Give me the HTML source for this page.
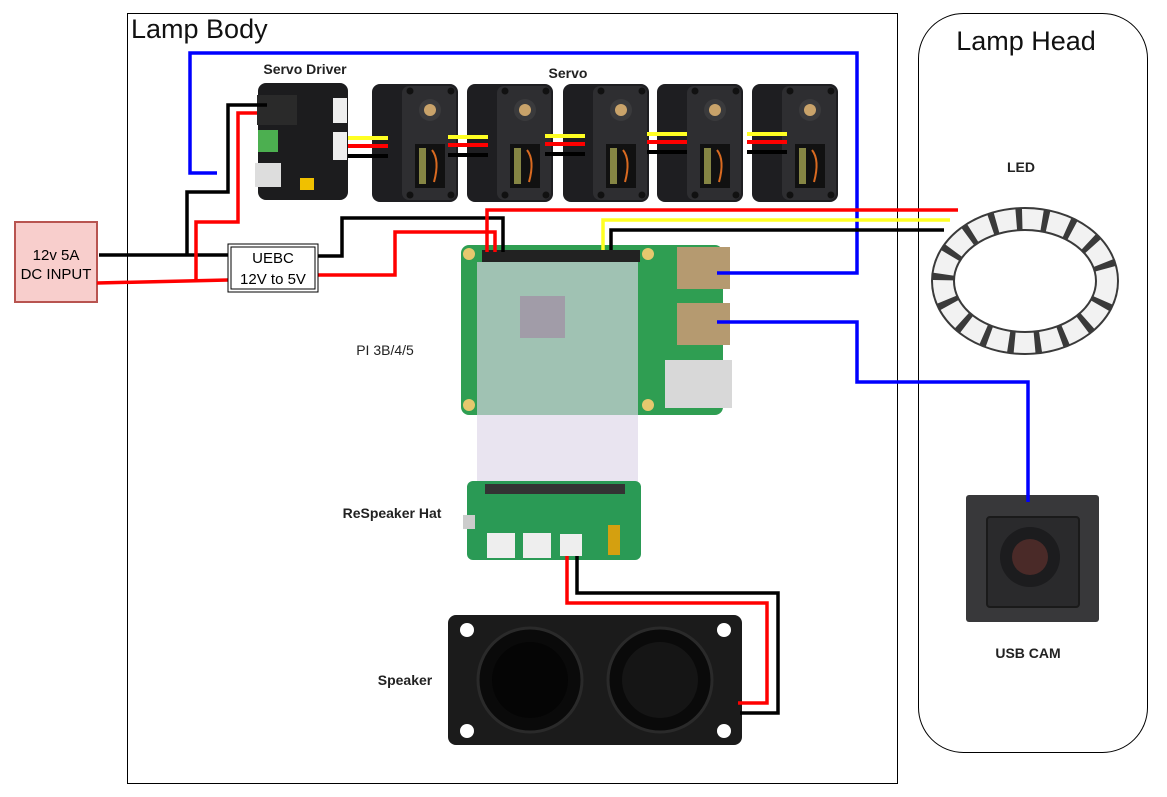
<!DOCTYPE html>
<html><head><meta charset="utf-8"><style>
body{margin:0;background:#fff;}
svg{display:block;font-family:"Liberation Sans",sans-serif;}
</style></head><body>
<svg width="1167" height="797" viewBox="0 0 1167 797" xmlns="http://www.w3.org/2000/svg">
<defs>
<g id="servo">
  <rect x="0" y="0" width="86" height="118" rx="8" fill="#1e1e21"/>
  <rect x="30" y="2" width="54" height="114" rx="7" fill="#2e2e31"/>
  <circle cx="38" cy="7" r="3.5" fill="#111"/><circle cx="79" cy="7" r="3.5" fill="#111"/>
  <circle cx="58" cy="26" r="11" fill="#3a3a3c"/><circle cx="58" cy="26" r="6" fill="#c9a36a"/>
  <rect x="43" y="60" width="30" height="44" fill="#111"/>
  <rect x="47" y="64" width="7" height="36" fill="#b8b85a" opacity=".7"/>
  <path d="M60 66 q8 10 2 32" stroke="#d96a20" stroke-width="2" fill="none"/>
  <circle cx="38" cy="111" r="3.5" fill="#111"/><circle cx="79" cy="111" r="3.5" fill="#111"/>
</g>
<g id="sw">
  <line x1="0" y1="0" x2="40" y2="0" stroke="#ffff22" stroke-width="4"/>
  <line x1="0" y1="8" x2="40" y2="8" stroke="#f00" stroke-width="4"/>
  <line x1="0" y1="18" x2="40" y2="18" stroke="#000" stroke-width="4"/>
</g>
</defs>

<rect x="127.5" y="13.5" width="770" height="770" fill="none" stroke="#000" stroke-width="1"/>
<text x="131" y="38" font-size="27" fill="#111">Lamp Body</text>
<rect x="918.5" y="13.5" width="229" height="739" rx="45" fill="none" stroke="#000" stroke-width="1"/>
<text x="1026" y="50" font-size="27" fill="#111" text-anchor="middle">Lamp Head</text>

<rect x="15" y="222" width="82" height="80" fill="#f8cecc" stroke="#b85450" stroke-width="2"/>
<text x="56" y="260" font-size="15" text-anchor="middle">12v 5A</text>
<text x="56" y="279" font-size="15" text-anchor="middle">DC INPUT</text>

<rect x="258" y="83" width="90" height="117" rx="8" fill="#1c1c1e"/>
<rect x="257" y="95" width="40" height="30" fill="#2a2a2a"/>
<rect x="258" y="130" width="20" height="22" fill="#4caf50"/>
<rect x="255" y="163" width="26" height="24" fill="#ddd"/>
<rect x="333" y="98" width="14" height="25" fill="#eee"/>
<rect x="333" y="132" width="14" height="28" fill="#eee"/>
<rect x="300" y="178" width="14" height="12" fill="#f0c000"/>
<text x="305" y="74" font-size="14" font-weight="bold" text-anchor="middle" fill="#222">Servo Driver</text>
<text x="568" y="78" font-size="14" font-weight="bold" text-anchor="middle" fill="#222">Servo</text>

<use href="#servo" x="372" y="84"/>
<use href="#servo" x="467" y="84"/>
<use href="#servo" x="563" y="84"/>
<use href="#servo" x="657" y="84"/>
<use href="#servo" x="752" y="84"/>
<use href="#sw" x="348" y="138"/>
<use href="#sw" x="448" y="137"/>
<use href="#sw" x="545" y="136"/>
<use href="#sw" x="647" y="134"/>
<use href="#sw" x="747" y="134"/>

<rect x="461" y="245" width="262" height="170" rx="8" fill="#2f9e52"/>
<rect x="482" y="250" width="158" height="12" fill="#222"/>
<rect x="677" y="247" width="53" height="42" fill="#b59a70"/>
<rect x="677" y="303" width="53" height="42" fill="#b59a70"/>
<rect x="665" y="360" width="67" height="48" fill="#d8d8d8"/>
<circle cx="469" cy="254" r="6" fill="#e6c86e"/><circle cx="648" cy="254" r="6" fill="#e6c86e"/>
<circle cx="469" cy="405" r="6" fill="#e6c86e"/><circle cx="648" cy="405" r="6" fill="#e6c86e"/>
<rect x="520" y="296" width="45" height="42" fill="#333"/>
<rect x="477" y="262" width="161" height="220" fill="#ddd6e8" opacity=".65"/>
<text x="385" y="355" font-size="14" text-anchor="middle" fill="#222">PI 3B/4/5</text>

<rect x="467" y="481" width="174" height="79" rx="6" fill="#2a9a55"/>
<rect x="485" y="484" width="140" height="10" fill="#333"/>
<rect x="487" y="533" width="28" height="25" fill="#eee"/>
<rect x="523" y="533" width="28" height="25" fill="#eee"/>
<rect x="560" y="534" width="22" height="22" fill="#eee"/>
<rect x="608" y="525" width="12" height="30" fill="#d4a010"/>
<rect x="463" y="515" width="12" height="14" fill="#ccc"/>
<text x="392" y="518" font-size="14" font-weight="bold" text-anchor="middle" fill="#222">ReSpeaker Hat</text>

<rect x="448" y="615" width="294" height="130" rx="8" fill="#1b1b1b"/>
<circle cx="467" cy="630" r="7" fill="#fff"/><circle cx="724" cy="630" r="7" fill="#fff"/>
<circle cx="467" cy="731" r="7" fill="#fff"/><circle cx="724" cy="731" r="7" fill="#fff"/>
<circle cx="530" cy="680" r="52" fill="#0a0a0a" stroke="#2a2a2a" stroke-width="3"/>
<circle cx="530" cy="680" r="38" fill="#050505"/>
<circle cx="660" cy="680" r="52" fill="#0a0a0a" stroke="#2a2a2a" stroke-width="3"/>
<circle cx="660" cy="680" r="38" fill="#151515"/>
<text x="405" y="685" font-size="14" font-weight="bold" text-anchor="middle" fill="#222">Speaker</text>

<ellipse cx="1025" cy="281" rx="82" ry="62" fill="none" stroke="#3a3a3a" stroke-width="24"/>
<ellipse cx="1025" cy="281" rx="82" ry="62" fill="none" stroke="#f2f2f2" stroke-width="20" stroke-dasharray="20 6"/>
<text x="1021" y="172" font-size="14" font-weight="bold" text-anchor="middle" fill="#222">LED</text>

<rect x="966" y="495" width="133" height="127" rx="3" fill="#38383a"/>
<rect x="987" y="517" width="92" height="90" rx="3" fill="#2a2a2c" stroke="#1a1a1a" stroke-width="2"/>
<circle cx="1030" cy="557" r="30" fill="#1c1c1e"/>
<circle cx="1030" cy="557" r="18" fill="#4a2a28"/>
<text x="1028" y="658" font-size="14" font-weight="bold" text-anchor="middle" fill="#222">USB CAM</text>

<g fill="none" stroke-width="3.5" stroke-linejoin="miter">
<polyline points="217,173 190,173 190,53 857,53 857,273 717,273" stroke="#00f"/>
<polyline points="717,322 857,322 857,382 1028,382 1028,502" stroke="#00f"/>
<polyline points="99,255 228,255" stroke="#000"/>
<polyline points="187,255 187,192 228,192 228,105 267,105" stroke="#000"/>
<polyline points="97,283 228,280" stroke="#f00"/>
<polyline points="196,281 196,222 238,222 238,113 257,113" stroke="#f00"/>
<polyline points="318,256 342,256 342,218 503,218 503,252" stroke="#000"/>
<polyline points="318,275 395,275 395,232 495,232 495,252" stroke="#f00"/>
<polyline points="958,210 487,210 487,252" stroke="#f00"/>
<polyline points="950,220 603,220 603,250" stroke="#ffff22"/>
<polyline points="944,230 611,230 611,250" stroke="#000"/>
<polyline points="577,556 577,593 778,593 778,713 740,713" stroke="#000"/>
<polyline points="567,556 567,603 767,603 767,703 738,703" stroke="#f00"/>
</g>
<rect x="228" y="244" width="90" height="48" fill="#fff" stroke="#000" stroke-width="1"/>
<rect x="231" y="247" width="84" height="42" fill="none" stroke="#000" stroke-width="1"/>
<text x="273" y="263" font-size="15" text-anchor="middle">UEBC</text>
<text x="273" y="284" font-size="15" text-anchor="middle">12V to 5V</text>
</svg>
</body></html>
